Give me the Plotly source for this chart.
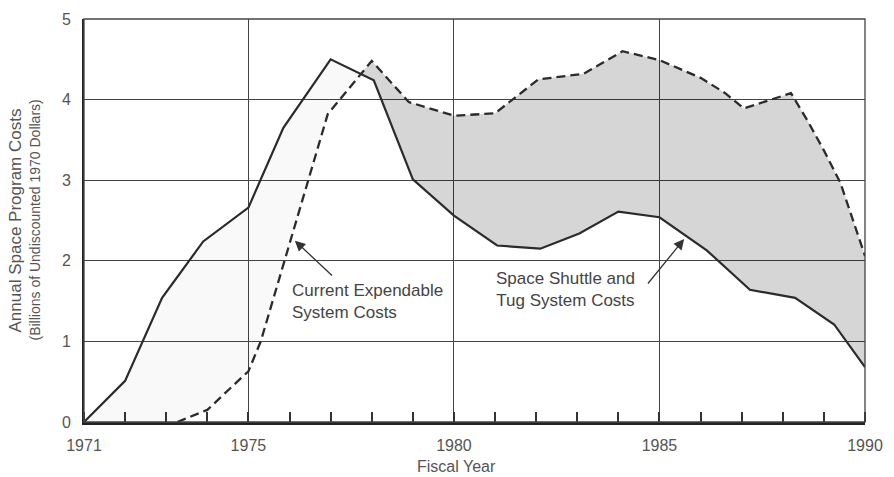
import plotly.graph_objects as go

# Space Shuttle and Tug system costs (solid line), billions of 1970 dollars
shuttle_years = [1971, 1972, 1972.9, 1973.9, 1975, 1975.85, 1977, 1978.05, 1979,
                 1980, 1981.05, 1982.1, 1983.05, 1984, 1985, 1986.15, 1987.2,
                 1988.3, 1989.25, 1990]
shuttle_cost = [0, 0.51, 1.54, 2.24, 2.66, 3.65, 4.50, 4.24, 3.01,
                2.56, 2.19, 2.15, 2.34, 2.61, 2.54, 2.13, 1.64,
                1.54, 1.21, 0.68]

# Current expendable system costs (dashed line)
expendable_years = [1973.27, 1974, 1975, 1975.3, 1976.93, 1978, 1978.9, 1980,
                    1981, 1982.05, 1983.15, 1984.1, 1985, 1986, 1986.6, 1987.05,
                    1988.2, 1988.6, 1989, 1989.4, 1990]
expendable_cost = [0, 0.15, 0.63, 1.0, 3.82, 4.48, 3.97, 3.80,
                   3.83, 4.25, 4.32, 4.60, 4.49, 4.27, 4.08, 3.89,
                   4.08, 3.74, 3.37, 2.97, 2.06]

x_tick_labels = [1971, 1975, 1980, 1985, 1990]
y_tick_labels = [0, 1, 2, 3, 4, 5]

FONT = "Liberation Sans"
INK = "#2b2b2b"
TEXT = "#555555"


def find_crossing(xa, ya, xb, yb):
    """Intersection of the two polylines (first one found past the start)."""
    for i in range(len(xa) - 1):
        for j in range(len(xb) - 1):
            x1, y1, x2, y2 = xa[i], ya[i], xa[i + 1], ya[i + 1]
            x3, y3, x4, y4 = xb[j], yb[j], xb[j + 1], yb[j + 1]
            den = (x1 - x2) * (y3 - y4) - (y1 - y2) * (x3 - x4)
            if abs(den) < 1e-12:
                continue
            t = ((x1 - x3) * (y3 - y4) - (y1 - y3) * (x3 - x4)) / den
            u = -((x1 - x2) * (y1 - y3) - (y1 - y2) * (x1 - x3)) / den
            if 0 < t < 1 and 0 < u < 1:
                return x1 + t * (x2 - x1), y1 + t * (y2 - y1)
    return None


cx, cy = find_crossing(shuttle_years, shuttle_cost, expendable_years, expendable_cost)

# Region where expendable costs exceed shuttle costs (after the crossing)
upper_x = [cx] + [x for x in expendable_years if x > cx]
upper_y = [cy] + [y for x, y in zip(expendable_years, expendable_cost) if x > cx]
tail = [(x, y) for x, y in zip(shuttle_years, shuttle_cost) if x > cx][::-1]
upper_x += [p[0] for p in tail]
upper_y += [p[1] for p in tail]

# Region before the crossing, between the two curves
lower_x = [x for x in shuttle_years if x < cx] + [cx]
lower_y = [y for x, y in zip(shuttle_years, shuttle_cost) if x < cx] + [cy]
head = [(x, y) for x, y in zip(expendable_years, expendable_cost) if x < cx][::-1]
lower_x += [p[0] for p in head]
lower_y += [p[1] for p in head]

fig = go.Figure()

fig.add_trace(go.Scatter(x=lower_x, y=lower_y, fill="toself", mode="none",
                         fillcolor="rgba(0,0,0,0.025)", hoverinfo="skip",
                         showlegend=False))
fig.add_trace(go.Scatter(x=upper_x, y=upper_y, fill="toself", mode="none",
                         fillcolor="rgba(0,0,0,0.16)", hoverinfo="skip",
                         showlegend=False))

fig.add_trace(go.Scatter(x=shuttle_years, y=shuttle_cost, mode="lines",
                         line=dict(color=INK, width=2.2), showlegend=False,
                         cliponaxis=False))
fig.add_trace(go.Scatter(x=expendable_years, y=expendable_cost, mode="lines",
                         line=dict(color=INK, width=2.3, dash="9px,5px"),
                         showlegend=False, cliponaxis=False))

# Callout labels with arrows
fig.add_annotation(x=1976.13, y=2.25, ax=1977.07, ay=1.80, xref="x", yref="y",
                   axref="x", ayref="y", text="", showarrow=True, arrowhead=2,
                   arrowsize=1.6, arrowwidth=1.3, arrowcolor="#333")
fig.add_annotation(x=1985.6, y=2.27, ax=1984.69, ay=1.70, xref="x", yref="y",
                   axref="x", ayref="y", text="", showarrow=True, arrowhead=2,
                   arrowsize=1.6, arrowwidth=1.3, arrowcolor="#333")
fig.add_annotation(x=1976.01, y=1.50, xref="x", yref="y", xanchor="left",
                   yanchor="middle", align="left", showarrow=False,
                   text="Current Expendable<br>System Costs",
                   font=dict(family=FONT, size=17, color="#444"))
fig.add_annotation(x=1982.71, y=1.64, xref="x", yref="y", xanchor="center",
                   yanchor="middle", align="center", showarrow=False,
                   text="Space Shuttle and<br>Tug System Costs",
                   font=dict(family=FONT, size=17, color="#444"))

# Axis titles
fig.add_annotation(x=1980.07, y=0, xref="x", yref="paper", yshift=-44,
                   yanchor="middle", xanchor="center",
                   showarrow=False, text="Fiscal Year",
                   font=dict(family=FONT, size=16, color=TEXT))
fig.add_annotation(x=0, y=0.5, xref="paper", yref="paper", xshift=-69,
                   xanchor="center", yanchor="middle",
                   textangle=-90, showarrow=False,
                   text="Annual Space Program Costs",
                   font=dict(family=FONT, size=17, color=TEXT))
fig.add_annotation(x=0, y=0.5, xref="paper", yref="paper", xshift=-50,
                   xanchor="center", yanchor="middle",
                   textangle=-90, showarrow=False,
                   text="(Billions of Undiscounted 1970 Dollars)",
                   font=dict(family=FONT, size=14, color=TEXT))

# Thin frame on top and right
fig.add_shape(type="rect", xref="paper", yref="paper", x0=0, y0=0, x1=1, y1=1,
              line=dict(color="#444", width=1.3), layer="above")

fig.update_xaxes(range=[1971, 1990], tickvals=x_tick_labels,
                 ticktext=[str(v) for v in x_tick_labels], ticks="",
                 showgrid=True, gridcolor="#444", gridwidth=1,
                 showline=True, linecolor="#222", linewidth=3, zeroline=False,
                 ticklabelstandoff=7,
                 tickfont=dict(family=FONT, size=16, color=TEXT),
                 minor=dict(dtick=1, tick0=1971, ticks="inside", ticklen=10,
                            tickwidth=1.5, tickcolor="#333", showgrid=False),
                 layer="above traces", fixedrange=True)
fig.update_yaxes(range=[0, 5], tickvals=y_tick_labels, ticks="",
                 showgrid=True, gridcolor="#444", gridwidth=1,
                 showline=True, linecolor="#222", linewidth=2, zeroline=False,
                 ticklabelstandoff=8,
                 tickfont=dict(family=FONT, size=16, color=TEXT),
                 layer="above traces", fixedrange=True)

fig.update_layout(width=894, height=477,
                  margin=dict(l=84, r=22, t=11, b=55),
                  plot_bgcolor="white", paper_bgcolor="white",
                  font=dict(family=FONT, color=TEXT))

fig.write_html("out.html")
